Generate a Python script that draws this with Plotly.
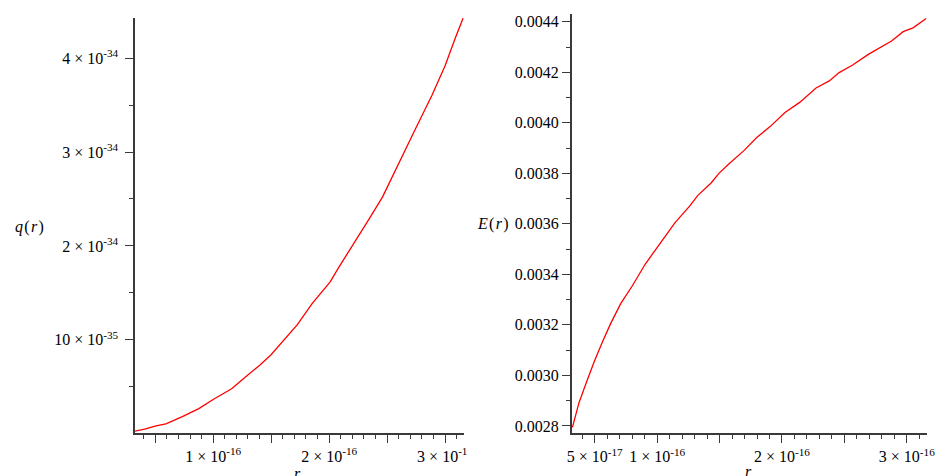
import plotly.graph_objects as go

# ---- data (r in metres) ----
r_q = [0.324e-16, 0.409e-16, 0.507e-16, 0.592e-16, 0.734e-16, 0.876e-16, 1.003e-16,
       1.159e-16, 1.314e-16, 1.399e-16, 1.499e-16, 1.612e-16, 1.726e-16, 1.853e-16,
       2.009e-16, 2.079e-16, 2.235e-16, 2.348e-16, 2.461e-16, 2.603e-16, 2.745e-16,
       2.886e-16, 3.000e-16, 3.085e-16, 3.155e-16]
q_vals = [0.028e-34, 0.049e-34, 0.084e-34, 0.105e-34, 0.183e-34, 0.268e-34, 0.367e-34,
          0.480e-34, 0.643e-34, 0.727e-34, 0.841e-34, 0.996e-34, 1.162e-34, 1.385e-34,
          1.618e-34, 1.764e-34, 2.064e-34, 2.294e-34, 2.523e-34, 2.894e-34, 3.248e-34,
          3.601e-34, 3.919e-34, 4.203e-34, 4.425e-34]

r_E = [0.321e-16, 0.374e-16, 0.432e-16, 0.497e-16, 0.564e-16, 0.629e-16, 0.708e-16,
       0.800e-16, 0.905e-16, 1.010e-16, 1.142e-16, 1.260e-16, 1.326e-16, 1.432e-16,
       1.497e-16, 1.576e-16, 1.695e-16, 1.800e-16, 1.905e-16, 2.024e-16, 2.142e-16,
       2.273e-16, 2.379e-16, 2.458e-16, 2.563e-16, 2.695e-16, 2.826e-16, 2.878e-16,
       2.971e-16, 3.050e-16, 3.155e-16]
E_vals = [0.002794, 0.002892, 0.002971, 0.003056, 0.003135, 0.003207, 0.003284,
          0.003354, 0.003441, 0.003513, 0.003604, 0.003670, 0.003713, 0.003762,
          0.003801, 0.003838, 0.003890, 0.003943, 0.003985, 0.004041, 0.004081,
          0.004138, 0.004166, 0.004199, 0.004228, 0.004272, 0.004311, 0.004324,
          0.004361, 0.004376, 0.004413]

# tick definitions
q_ticks = [1e-34, 2e-34, 3e-34, 4e-34]
q_ticktext = ["10 × 10<sup>-35</sup>", "2 × 10<sup>-34</sup>", "3 × 10<sup>-34</sup>",
              "4 × 10<sup>-34</sup>"]
q_minor = [0.5e-34, 1.5e-34, 2.5e-34, 3.5e-34]

rq_ticks = [0.5e-16, 1e-16, 1.5e-16, 2e-16, 2.5e-16, 3e-16]
rq_ticktext = ["", "1 × 10<sup>-16</sup>", "", "2 × 10<sup>-16</sup>", "",
               "3 × 10<sup>-1<span style='color:rgba(0,0,0,0)'>6</span></sup>"]

rE_ticks = [0.5e-16, 1e-16, 1.5e-16, 2e-16, 2.5e-16, 3e-16]
rE_ticktext = ["5 × 10<sup>-17</sup>", "1 × 10<sup>-16</sup>", "", "2 × 10<sup>-16</sup>",
               "", "3 × 10<sup>-16</sup>"]

E_ticks = [0.0028, 0.0030, 0.0032, 0.0034, 0.0036, 0.0038, 0.0040, 0.0042, 0.0044]
E_ticktext = ["0.0028", "0.0030", "0.0032", "0.0034", "0.0036", "0.0038", "0.0040",
              "0.0042", "0.0044"]

W, H = 945, 476
AX = "#3a3a3a"
FONT = "Liberation Serif"

fig = go.Figure()
fig.add_trace(go.Scatter(x=r_q, y=q_vals, mode="lines", line=dict(color="#ff0000", width=1.3),
                         xaxis="x", yaxis="y", showlegend=False, hoverinfo="skip"))
fig.add_trace(go.Scatter(x=r_E, y=E_vals, mode="lines", line=dict(color="#ff0000", width=1.3),
                         xaxis="x2", yaxis="y2", showlegend=False, hoverinfo="skip"))

common = dict(showline=True, linecolor=AX, linewidth=1.5, ticks="outside", tickcolor=AX,
              tickwidth=1.2, ticklen=8, showgrid=False, zeroline=False,
              tickfont=dict(family=FONT, size=16, color="black"), tickmode="array")

def px_x(p):
    return p / W

def px_y(p):
    return 1 - p / H

fig.update_layout(
    width=W, height=H, margin=dict(l=0, r=0, t=0, b=0),
    paper_bgcolor="white", plot_bgcolor="white",
    xaxis=dict(domain=[px_x(132), px_x(466)], anchor="y", range=[0.326e-16, 3.164e-16],
               tickvals=rq_ticks, ticktext=rq_ticktext,
               minor=dict(dtick=0.1e-16, tick0=0, ticks="outside", ticklen=4, tickcolor=AX,
                          tickwidth=1.2),
               **common),
    yaxis=dict(domain=[px_y(434), px_y(17)], anchor="x", range=[0.0064e-34, 4.428e-34],
               tickvals=q_ticks, ticktext=q_ticktext,
               minor=dict(tickvals=q_minor, ticks="outside", ticklen=4, tickcolor=AX,
                          tickwidth=1.2),
               ticklabelstandoff=4,
               **common),
    xaxis2=dict(domain=[px_x(575.3), px_x(936)], anchor="y2", range=[0.316e-16, 3.163e-16],
                tickvals=rE_ticks, ticktext=rE_ticktext,
                minor=dict(dtick=0.1e-16, tick0=0, ticks="outside", ticklen=4, tickcolor=AX,
                           tickwidth=1.2),
                **common),
    yaxis2=dict(domain=[px_y(434.3), px_y(13.3)], anchor="x2", range=[0.00277, 0.00443],
                tickvals=E_ticks, ticktext=E_ticktext,
                minor=dict(dtick=0.0001, tick0=0, ticks="outside", ticklen=4, tickcolor=AX,
                           tickwidth=1.2),
                ticklabelstandoff=0,
                **common),
)

title_font = dict(family=FONT, size=16, color="black")
fig.add_annotation(text="<i>q</i>\u200a(\u200a<i>r</i>\u200a)", x=px_x(24.5), y=px_y(227),
                   xref="paper", yref="paper", showarrow=False, font=title_font,
                   xanchor="center", yanchor="middle")
fig.add_annotation(text="<i>E</i>\u200a(\u200a<i>r</i>\u200a)", x=px_x(495), y=px_y(224),
                   xref="paper", yref="paper", showarrow=False, font=title_font,
                   xanchor="center", yanchor="middle")
fig.add_annotation(text="<i>r</i>", x=px_x(297), y=px_y(464), xref="paper", yref="paper",
                   showarrow=False, font=title_font, xanchor="center", yanchor="top")
fig.add_annotation(text="<i>r</i>", x=px_x(755), y=px_y(462), xref="paper", yref="paper",
                   showarrow=False, font=title_font, xanchor="center", yanchor="top")

fig.write_html("out.html",
               post_script="document.body.style.margin='0';document.body.style.padding='0';",
               config={"displayModeBar": False})
